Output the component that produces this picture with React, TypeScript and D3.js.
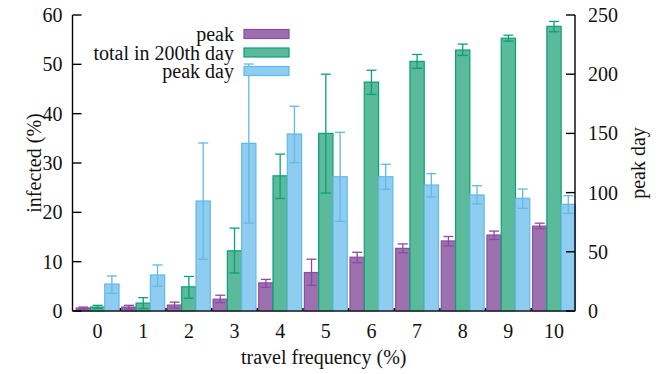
import React from 'react'
import * as d3 from 'd3'

const categories = [0, 1, 2, 3, 4, 5, 6, 7, 8, 9, 10]
// peak infected (%), with error range
const peak = [0.6, 0.8, 1.2, 2.4, 5.7, 7.8, 10.9, 12.7, 14.2, 15.4, 17.2]
const peakLo = [0.4, 0.4, 0.6, 1.7, 4.8, 5.2, 9.8, 11.8, 13.2, 14.5, 16.7]
const peakHi = [0.8, 1.15, 1.8, 3.2, 6.4, 10.5, 11.9, 13.6, 15.1, 16.2, 17.8]
// total infected in 200th day (%)
const total = [0.8, 1.6, 4.9, 12.2, 27.4, 36.0, 46.4, 50.6, 52.9, 55.3, 57.7]
const totalLo = [0.5, 0.5, 2.6, 7.7, 22.8, 23.9, 43.9, 49.2, 51.8, 54.7, 56.6]
const totalHi = [1.15, 2.7, 7.0, 16.8, 31.8, 48.0, 48.8, 52.0, 54.1, 55.9, 58.7]
// peak day (right axis)
const peakDay = [22.8, 30.4, 92.9, 141.6, 149.5, 113.4, 113.4, 106.4, 98, 95.2, 90.1]
const peakDayLo = [14.9, 20.8, 43.7, 74.3, 125.3, 75.7, 102.8, 96.3, 90.4, 86.7, 82.5]
const peakDayHi = [29.6, 38.9, 141.9, 208.6, 172.9, 150.9, 123.9, 116, 105.8, 103, 97.4]

const leftTicks = [0, 10, 20, 30, 40, 50, 60]
const rightTicks = [0, 50, 100, 150, 200, 250]

const series = [
  { name: 'peak', values: peak, lo: peakLo, hi: peakHi, fill: '#9d70b0', stroke: '#8a4ba2', axis: 'left' },
  { name: 'total in 200th day', values: total, lo: totalLo, hi: totalHi, fill: '#5aba9a', stroke: '#0aa078', axis: 'left' },
  { name: 'peak day', values: peakDay, lo: peakDayLo, hi: peakDayHi, fill: '#8ecdf0', stroke: '#62b8e8', axis: 'right' },
]

export default function App() {
  const width = 664
  const height = 374
  const left = 72.5
  const right = 575
  const top = 15
  const bottom = 311

  const x = d3.scaleLinear().domain([-0.55, 10.46]).range([left, right])
  const yL = d3.scaleLinear().domain([0, 60]).range([bottom, top])
  const yR = d3.scaleLinear().domain([0, 250]).range([bottom, top])
  const step = x(1) - x(0)
  const bw = step * 0.313
  const font = "'Liberation Serif', 'DejaVu Serif', serif"

  return (
    <svg width={width} height={height} style={{ position: 'absolute', left: 0, top: 0, fontFamily: font }}>
      <rect width={width} height={height} fill="#fff" />
      {/* bars */}
      {categories.map((c, i) => (
        <g key={c}>
          {series.map((s, k) => {
            const y = s.axis === 'left' ? yL : yR
            const x0 = x(c) + (k - 1.5) * bw
            return (
              <rect key={s.name} x={x0} y={y(s.values[i])} width={bw} height={bottom - y(s.values[i])}
                fill={s.fill} stroke={s.stroke} strokeWidth={1.2} />
            )
          })}
          {series.map((s, k) => {
            const y = s.axis === 'left' ? yL : yR
            const cx = x(c) + (k - 1) * bw
            return (
              <g key={s.name} stroke={s.stroke} strokeWidth={1.3}>
                <line x1={cx} x2={cx} y1={y(s.lo[i])} y2={y(s.hi[i])} />
                <line x1={cx - 5} x2={cx + 5} y1={y(s.lo[i])} y2={y(s.lo[i])} />
                <line x1={cx - 5} x2={cx + 5} y1={y(s.hi[i])} y2={y(s.hi[i])} />
              </g>
            )
          })}
        </g>
      ))}

      {/* axes */}
      <g stroke="#000" strokeWidth={1.4}>
        <line x1={left} x2={left} y1={top} y2={bottom} />
        <line x1={right} x2={right} y1={top} y2={bottom} />
        <line x1={left} x2={right} y1={bottom} y2={bottom} stroke="#222" />
        {leftTicks.map(t => (
          <line key={t} x1={left} x2={left + 9} y1={yL(t)} y2={yL(t)} />
        ))}
        {rightTicks.map(t => (
          <line key={t} x1={right - 9} x2={right} y1={yR(t)} y2={yR(t)} />
        ))}
        {categories.slice(0, -1).map(c => (
          <line key={c} x1={x(c + 0.5)} x2={x(c + 0.5)} y1={bottom} y2={bottom - 3} />
        ))}
      </g>
      <g fontSize={20} fill="#111">
        {leftTicks.map(t => (
          <text key={t} x={left - 10} y={yL(t)} dy="0.35em" textAnchor="end">{t}</text>
        ))}
        {rightTicks.map(t => (
          <text key={t} x={right + 13} y={yR(t)} dy="0.35em" textAnchor="start">{t}</text>
        ))}
        {categories.map(c => (
          <text key={c} x={x(c)} y={bottom + 27} textAnchor="middle">{c}</text>
        ))}
        <text x={(left + right) / 2} y={364} textAnchor="middle">travel frequency (%)</text>
        <text transform={`translate(41,${(top + bottom) / 2}) rotate(-90)`} textAnchor="middle">infected (%)</text>
        <text transform={`translate(645,${(top + bottom) / 2}) rotate(-90)`} textAnchor="middle">peak day</text>
      </g>

      {/* legend */}
      <g fontSize={20} fill="#111">
        {series.map((s, k) => {
          const cy = 34 + k * 18.5
          return (
            <g key={s.name}>
              <text x={234} y={cy} dy="0.35em" textAnchor="end">{s.name}</text>
              <rect x={244} y={cy - 4.5} width={45} height={9} fill={s.fill} stroke={s.stroke} strokeWidth={1.2} />
            </g>
          )
        })}
      </g>
    </svg>
  )
}
